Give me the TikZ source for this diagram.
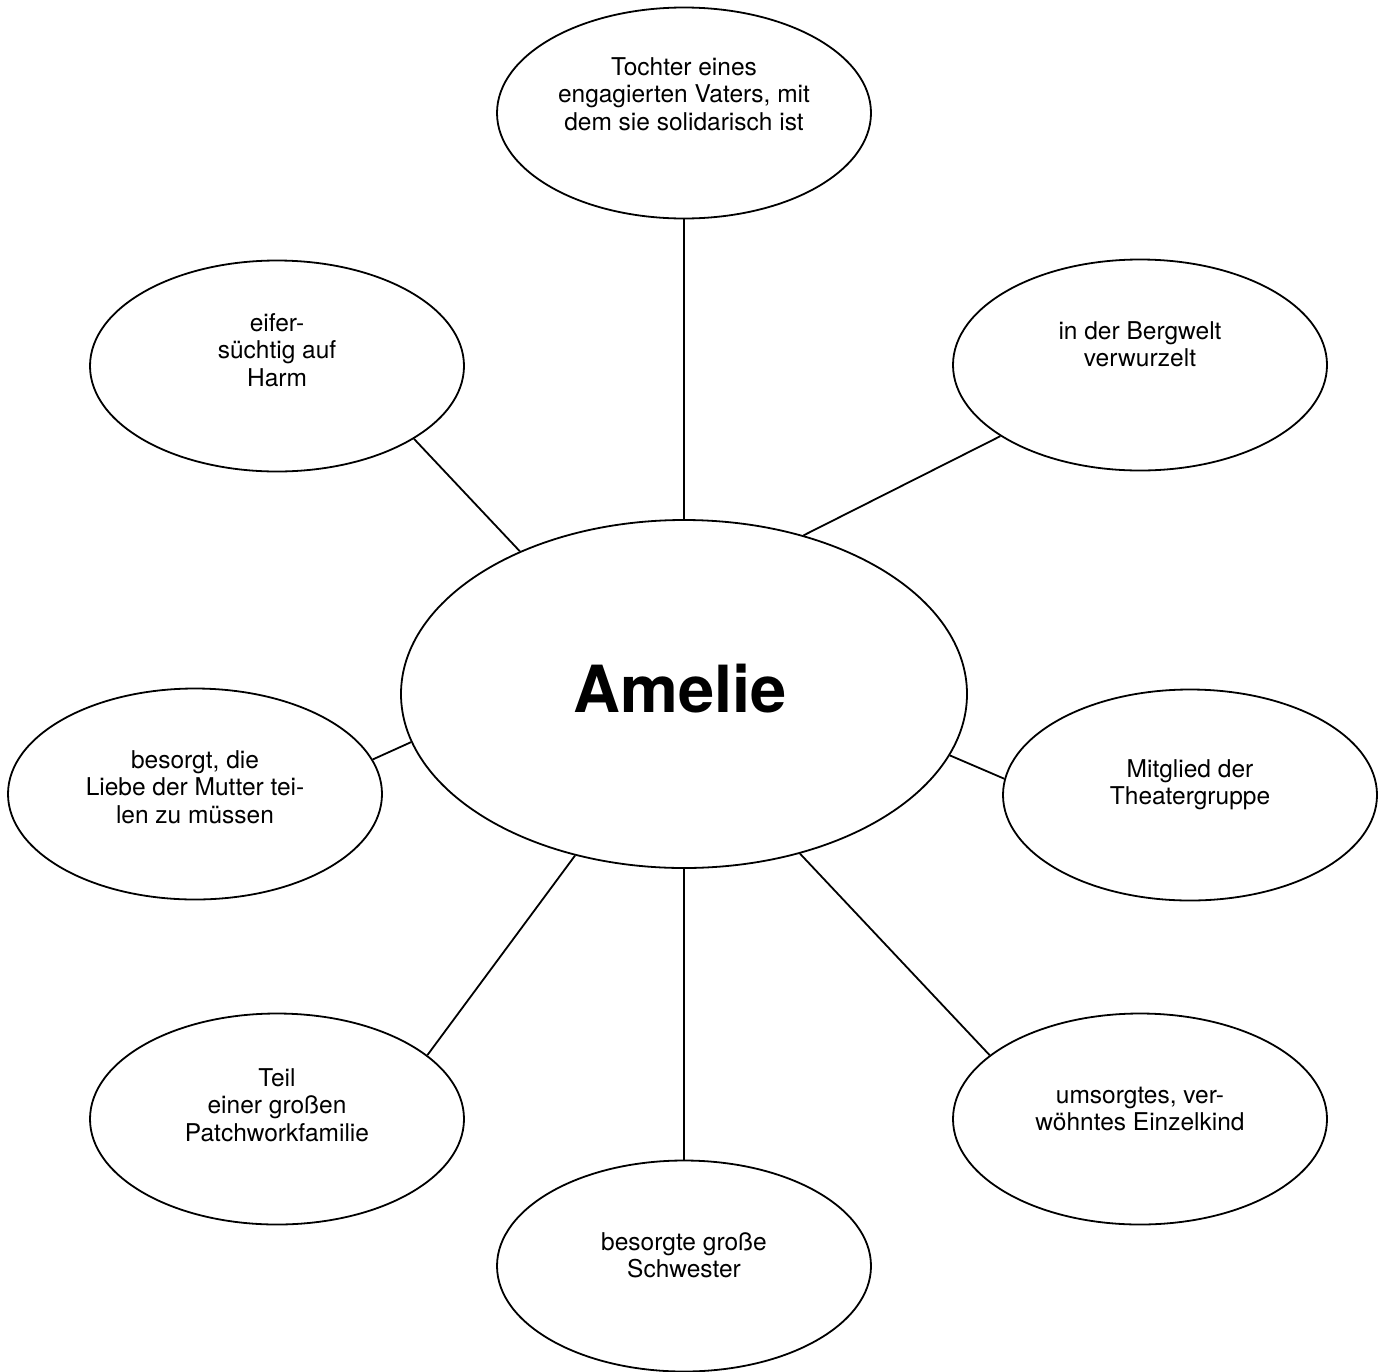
\documentclass[tikz,border=0pt]{standalone}
\usepackage{fontspec}
\setmainfont{TeX Gyre Heros}
\usetikzlibrary{shapes.geometric}
\begin{document}
\begin{tikzpicture}[x=1pt,y=-1pt,
  bub/.style={ellipse, draw, line width=1.8pt, minimum width=374pt, minimum height=211pt, inner sep=0pt},
  hub/.style={ellipse, draw, line width=1.8pt, minimum width=566pt, minimum height=348pt, inner sep=0pt},
  txt/.style={anchor=base, inner sep=0pt, font=\fontsize{24.5}{27.5}\selectfont},
  con/.style={line width=1.8pt}]
\useasboundingbox (0,0) rectangle (1386,1371);
% ellipses
\node[hub] (c) at (684,694) {};
\node[bub] (nT) at (684,113) {};
\node[bub] (nUL) at (277,366) {};
\node[bub] (nUR) at (1140,365) {};
\node[bub] (nLM) at (195,794) {};
\node[bub] (nRM) at (1190,795) {};
\node[bub] (nLL) at (277,1119) {};
\node[bub] (nLR) at (1140,1119) {};
\node[bub] (nB) at (684,1266) {};
% connectors
\draw[con] (nT) -- (c);
\draw[con] (nB) -- (c);
\draw[con] (nUL.-28) -- (c.139);
\draw[con] (nUR.-153) -- (c.53);
\draw[con] (nLM.11) -- (c.190);
\draw[con] (nRM.175) -- (c.-13);
\draw[con] (nLL.23) -- (c.-124);
\draw[con] (nLR.157) -- (c.-54);
% texts
\node[anchor=base, inner sep=0pt, font=\bfseries\fontsize{65}{70}\selectfont] (tC) at (680,712) {Amelie};
\node[txt] (tT) at (684,75) {\begin{tabular}[t]{@{}c@{}}Tochter eines\\engagierten Vaters, mit\\dem sie solidarisch ist\end{tabular}};
\node[txt] (tUL) at (277,331) {\begin{tabular}[t]{@{}c@{}}eifer-\\süchtig auf\\Harm\end{tabular}};
\node[txt] (tUR) at (1140,339) {\begin{tabular}[t]{@{}c@{}}in der Bergwelt\\verwurzelt\end{tabular}};
\node[txt] (tLM) at (195,768) {\begin{tabular}[t]{@{}c@{}}besorgt, die\\Liebe der Mutter tei-\\len zu müssen\end{tabular}};
\node[txt] (tRM) at (1190,777) {\begin{tabular}[t]{@{}c@{}}Mitglied der\\Theatergruppe\end{tabular}};
\node[txt] (tLL) at (277,1086) {\begin{tabular}[t]{@{}c@{}}Teil\\einer großen\\Patchworkfamilie\end{tabular}};
\node[txt] (tLR) at (1140,1103) {\begin{tabular}[t]{@{}c@{}}umsorgtes, ver-\\wöhntes Einzelkind\end{tabular}};
\node[txt] (tB) at (684,1250) {\begin{tabular}[t]{@{}c@{}}besorgte große\\Schwester\end{tabular}};
\end{tikzpicture}
\end{document}
